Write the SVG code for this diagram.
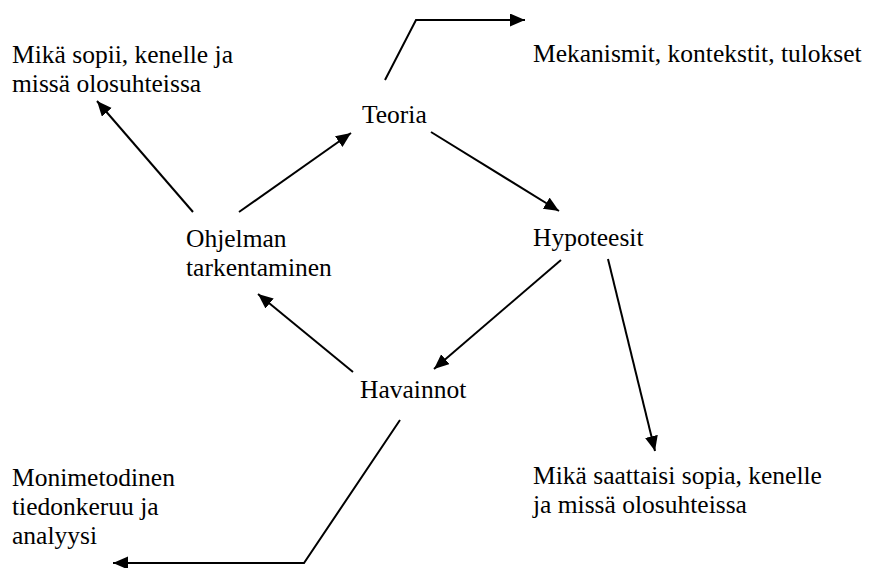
<svg xmlns="http://www.w3.org/2000/svg" width="880" height="568" viewBox="0 0 880 568">
<style>
text{font-family:"Liberation Serif","Times New Roman",serif;font-size:25.5px;fill:#000}
.c{fill:none;stroke:#000;stroke-width:2}
</style>
<defs>
<marker id="ah" markerUnits="userSpaceOnUse" markerWidth="16" markerHeight="14" refX="15" refY="6.5" orient="auto">
<path d="M0,0 L15,6.5 L0,13 z" fill="#000"/>
</marker>
</defs>
<rect width="880" height="568" fill="#fff"/>
<g id="connectors">
<polyline class="c" points="385,80 416,20 525,20" marker-end="url(#ah)"/>
<line class="c" x1="193" y1="212" x2="97" y2="101" marker-end="url(#ah)"/>
<line class="c" x1="239" y1="212" x2="351" y2="133" marker-end="url(#ah)"/>
<line class="c" x1="431" y1="132" x2="559" y2="211" marker-end="url(#ah)"/>
<line class="c" x1="561" y1="260" x2="434" y2="369" marker-end="url(#ah)"/>
<line class="c" x1="353" y1="372" x2="258" y2="294" marker-end="url(#ah)"/>
<line class="c" x1="608" y1="259" x2="655" y2="451" marker-end="url(#ah)"/>
<polyline class="c" points="400,420 304,563 113,563" marker-end="url(#ah)"/>
</g>
<g font-family="Liberation Serif, Times New Roman, serif">
<g id="teoria"><text x="362" y="123">Teoria</text></g>
<g id="hypoteesit"><text x="533" y="246">Hypoteesit</text></g>
<g id="havainnot"><text x="360" y="398">Havainnot</text></g>
<g id="ohjelman"><text x="186" y="247">Ohjelman</text><text x="186" y="276">tarkentaminen</text></g>
<g id="mekanismit"><text x="533" y="62">Mekanismit, kontekstit, tulokset</text></g>
<g id="mika-sopii"><text x="12" y="63">Mikä sopii, kenelle ja</text><text x="12" y="92">missä olosuhteissa</text></g>
<g id="monimetodinen"><text x="12" y="486">Monimetodinen</text><text x="12" y="515">tiedonkeruu ja</text><text x="12" y="544">analyysi</text></g>
<g id="mika-saattaisi"><text x="533" y="484">Mikä saattaisi sopia, kenelle</text><text x="533" y="513">ja missä olosuhteissa</text></g>
</g>
</svg>
